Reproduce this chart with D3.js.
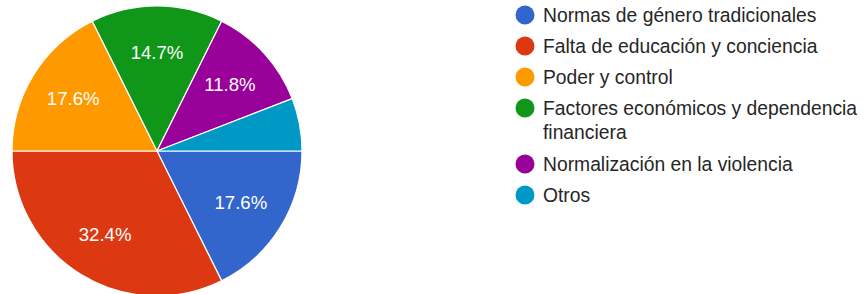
<!DOCTYPE html>
<html>
<head>
  <meta charset="utf-8">
  <title>Pie</title>
  <style>
    body { margin: 0; background: #fff; }
    svg { display: block; }
    text { font-family: Arial, "Liberation Sans", sans-serif; }
  </style>
</head>
<body>
  <script src="https://d3js.org/d3.v7.min.js"></script>
  <script>
    const categories = [
      "Normas de género tradicionales",
      "Falta de educación y conciencia",
      "Poder y control",
      "Factores económicos y dependencia financiera",
      "Normalización en la violencia",
      "Otros"
    ];
    const values = [6, 11, 6, 5, 4, 2];
    const colors = ["#3366cc", "#dc3912", "#ff9900", "#109618", "#990099", "#0099c6"];

    const width = 865, height = 294;
    const cx = 157, cy = 151, r = 145;

    const svg = d3.select("body").append("svg")
      .attr("width", width).attr("height", height);

    const total = d3.sum(values);
    const pie = d3.pie().sort(null)
      .startAngle(Math.PI / 2).endAngle(Math.PI / 2 + 2 * Math.PI);
    const arcs = pie(values);
    const arc = d3.arc().innerRadius(0).outerRadius(r);
    const labelArc = d3.arc().innerRadius(r * 0.68).outerRadius(r * 0.68);

    const g = svg.append("g").attr("transform", `translate(${cx},${cy})`);
    g.selectAll("path")
      .data(arcs)
      .join("path")
      .attr("d", arc)
      .attr("fill", (d, i) => colors[i])
      .attr("stroke", "#fff")
      .attr("stroke-width", 1.2);

    g.selectAll("text")
      .data(arcs.filter(d => d.data / total >= 0.1))
      .join("text")
      .attr("transform", d => `translate(${labelArc.centroid(d)})`)
      .attr("text-anchor", "middle")
      .attr("dy", "0.33em")
      .attr("fill", "#fff")
      .attr("font-size", 18.6)
      .text(d => (d.data / total * 100).toFixed(1) + "%");

    // legend
    const legendX = 525, textX = 543, maxW = 322;
    let y = 15;
    categories.forEach((c, i) => {
      const item = svg.append("g");
      item.append("circle")
        .attr("cx", legendX).attr("cy", y).attr("r", 9.5)
        .attr("fill", colors[i]);
      const t = item.append("text")
        .attr("x", textX).attr("y", y)
        .attr("dy", "0.36em")
        .attr("font-size", 19.3)
        .attr("fill", "#262626");
      // wrap long labels
      const words = c.split(" ");
      let line = [], lines = 1;
      let tspan = t.append("tspan").attr("x", textX);
      words.forEach(w => {
        line.push(w);
        tspan.text(line.join(" "));
        if (tspan.node().getComputedTextLength() > maxW && line.length > 1) {
          line.pop();
          tspan.text(line.join(" "));
          line = [w];
          tspan = t.append("tspan").attr("x", textX).attr("dy", 24).text(w);
          lines++;
        }
      });
      y += 31 + (lines - 1) * 25;
    });
  </script>
</body>
</html>
